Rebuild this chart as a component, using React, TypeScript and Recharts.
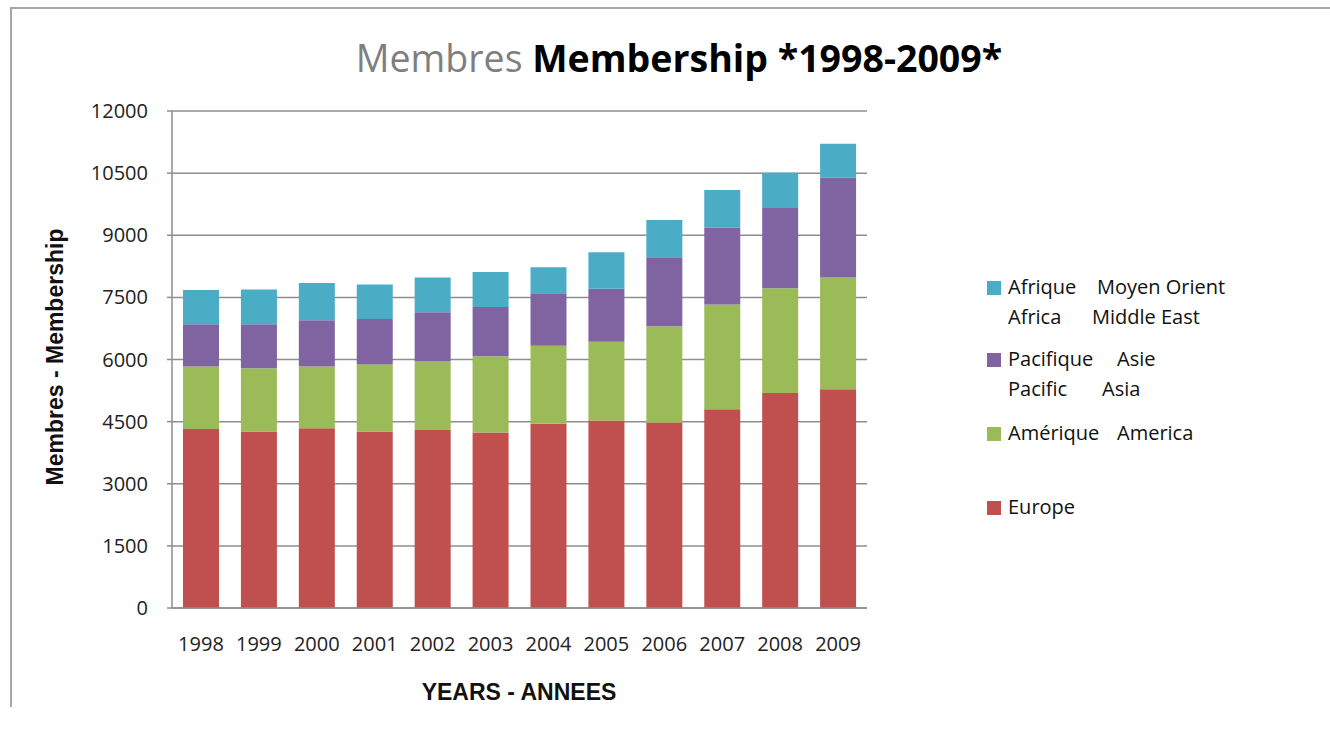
import React from 'react';
import { BarChart, Bar, XAxis, YAxis, CartesianGrid } from 'recharts';

const years = ['1998', '1999', '2000', '2001', '2002', '2003', '2004', '2005', '2006', '2007', '2008', '2009'];
const europe = [4320, 4260, 4340, 4260, 4300, 4240, 4450, 4530, 4480, 4800, 5190, 5280];
const america = [1510, 1530, 1490, 1620, 1650, 1840, 1880, 1900, 2320, 2530, 2530, 2700];
const pacific = [1020, 1060, 1120, 1100, 1190, 1190, 1270, 1280, 1670, 1850, 1940, 2410];
const africa = [830, 840, 900, 830, 840, 840, 630, 880, 900, 910, 850, 820];
const yTicks = [0, 1500, 3000, 4500, 6000, 7500, 9000, 10500, 12000];

const data = years.map((year, i) => ({
  year,
  europe: europe[i],
  america: america[i],
  pacific: pacific[i],
  africa: africa[i],
}));

const COLORS = {
  europe: '#C0504D',
  america: '#9BBB59',
  pacific: '#8064A2',
  africa: '#4BACC6',
};

const GRID = '#8e8e8e';
const CALIBRI = '"Open Sans", Carlito, Calibri, sans-serif';
const ARIAL = '"Liberation Sans", Arial, sans-serif';

// legend lines: [text, left] pairs, top of each block
const legendItems = [
  { color: COLORS.africa, top: 272, lines: [[['Afrique', 1008], ['Moyen Orient', 1097]], [['Africa', 1008], ['Middle East', 1092]]] },
  { color: COLORS.pacific, top: 344, lines: [[['Pacifique', 1008], ['Asie', 1117]], [['Pacific', 1008], ['Asia', 1102]]] },
  { color: COLORS.america, top: 418, lines: [[['Amérique', 1008], ['America', 1117]]] },
  { color: COLORS.europe, top: 492, lines: [[['Europe', 1008]]] },
];

export default function App() {
  return (
    <div style={{ position: 'absolute', left: 0, top: 0, width: 1330, height: 730, background: '#fff', overflow: 'hidden' }}>
      <div
        style={{
          position: 'absolute',
          left: 10,
          top: 7,
          width: 1330,
          height: 698,
          borderTop: '2px solid #a6a6a6',
          borderLeft: '2px solid #a6a6a6',
        }}
      />
      <div
        style={{
          position: 'absolute',
          left: 0,
          width: 1358,
          top: 33,
          textAlign: 'center',
          fontFamily: CALIBRI,
          fontSize: 37.5,
          lineHeight: '50px',
          whiteSpace: 'pre',
        }}
      >
        <span style={{ color: '#7f7f7f' }}>Membres </span>
        <span style={{ color: '#000', fontWeight: 700 }}>Membership *1998-2009*</span>
      </div>

      <BarChart
        width={1330}
        height={730}
        data={data}
        margin={{ top: 111, right: 463, left: 92, bottom: 82 }}
        barCategoryGap="19%"
        style={{ position: 'absolute', left: 0, top: 0 }}
      >
        <CartesianGrid vertical={false} stroke={GRID} strokeWidth={1.5} />
        <XAxis
          dataKey="year"
          height={40}
          tickSize={0}
          tickMargin={29}
          axisLine={{ stroke: GRID, strokeWidth: 1.5 }}
          tickLine={false}
          tick={{ fontSize: 20, fill: '#222', fontFamily: CALIBRI }}
          interval={0}
        />
        <YAxis
          width={80}
          domain={[0, 12000]}
          ticks={yTicks}
          interval={0}
          tickSize={5}
          tickMargin={19}
          axisLine={{ stroke: GRID, strokeWidth: 1.5 }}
          tickLine={{ stroke: GRID, strokeWidth: 1.5 }}
          tick={{ fontSize: 20, fill: '#222', fontFamily: CALIBRI }}
        />
        <Bar dataKey="europe" stackId="a" fill={COLORS.europe} isAnimationActive={false} />
        <Bar dataKey="america" stackId="a" fill={COLORS.america} isAnimationActive={false} />
        <Bar dataKey="pacific" stackId="a" fill={COLORS.pacific} isAnimationActive={false} />
        <Bar dataKey="africa" stackId="a" fill={COLORS.africa} isAnimationActive={false} />
      </BarChart>

      <div
        style={{
          position: 'absolute',
          left: 55 - 200,
          top: 357 - 15,
          width: 400,
          height: 30,
          lineHeight: '30px',
          textAlign: 'center',
          transform: 'rotate(-90deg)',
          fontFamily: ARIAL,
          fontWeight: 700,
          fontSize: 23,
          color: '#111',
        }}
      >
        Membres - Membership
      </div>
      <div
        style={{
          position: 'absolute',
          left: 519 - 200,
          top: 692 - 15,
          width: 400,
          height: 30,
          lineHeight: '30px',
          textAlign: 'center',
          fontFamily: ARIAL,
          fontWeight: 700,
          fontSize: 23,
          color: '#111',
        }}
      >
        YEARS - ANNEES
      </div>

      {legendItems.map((item, i) => (
        <div key={i}>
          <div
            style={{
              position: 'absolute',
              left: 987,
              top: item.top + 9,
              width: 14,
              height: 14,
              background: item.color,
            }}
          />
          {item.lines.map((line, j) =>
            line.map(([text, left], k) => (
              <div
                key={`${j}-${k}`}
                style={{
                  position: 'absolute',
                  left: left as number,
                  top: item.top + j * 30,
                  lineHeight: '30px',
                  fontSize: 20,
                  fontFamily: CALIBRI,
                  color: '#111',
                  whiteSpace: 'pre',
                }}
              >
                {text}
              </div>
            ))
          )}
        </div>
      ))}
    </div>
  );
}
